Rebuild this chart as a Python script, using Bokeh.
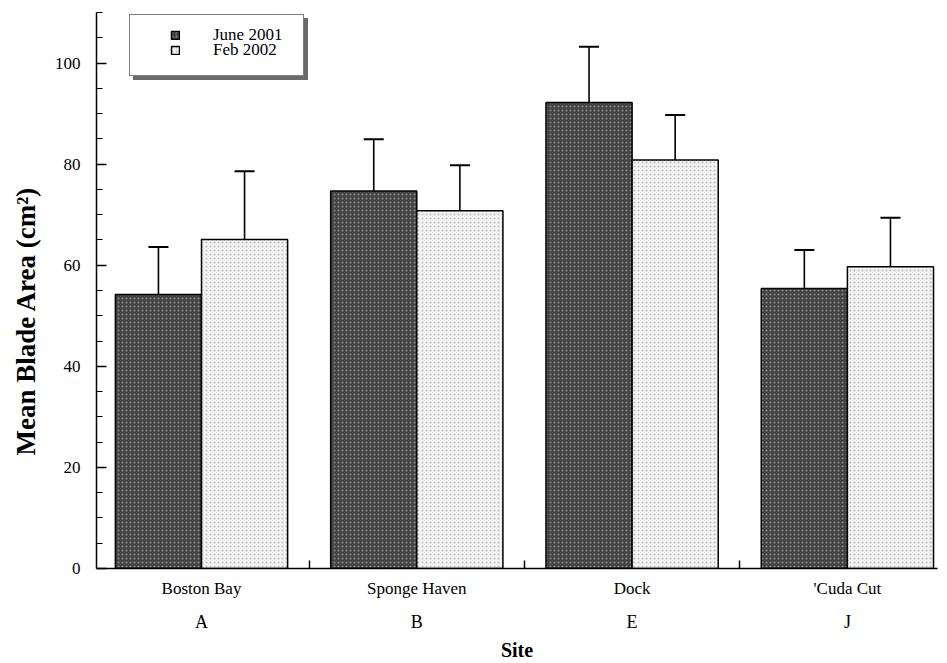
from bokeh.plotting import figure
from bokeh.models import (ColumnDataSource, FixedTicker, LinearAxis, Range1d,
                          Whisker, TeeHead, Legend, LegendItem)
from bokeh.embed import file_html
from bokeh.resources import INLINE

# ---- data ----
sites = ["Boston Bay", "Sponge Haven", "Dock", "'Cuda Cut"]
site_codes = ["A", "B", "E", "J"]
series = ["June 2001", "Feb 2002"]
june_mean = [54.2, 74.7, 92.2, 55.4]
june_err = [9.4, 10.2, 11.0, 7.6]
feb_mean = [65.1, 70.8, 80.8, 59.7]
feb_err = [13.5, 9.0, 8.9, 9.7]
y_major_ticks = [0, 20, 40, 60, 80, 100]
y_minor_ticks = [5, 10, 15, 25, 30, 35, 45, 50, 55, 65, 70, 75, 85, 90, 95, 105, 110]

FONT = "Liberation Serif"
idx = list(range(len(sites)))
offset = 0.2
bar_w = 0.4

june_src = ColumnDataSource(dict(
    x=[i - offset for i in idx], top=june_mean,
    upper=[m + e for m, e in zip(june_mean, june_err)],
    lower=[m - e for m, e in zip(june_mean, june_err)]))
feb_src = ColumnDataSource(dict(
    x=[i + offset for i in idx], top=feb_mean,
    upper=[m + e for m, e in zip(feb_mean, feb_err)],
    lower=[m - e for m, e in zip(feb_mean, feb_err)]))

p = figure(width=947, height=663, output_backend="svg", toolbar_location=None,
           x_range=Range1d(-0.4877, 3.4185), y_range=Range1d(0, 110),
           min_border_left=96, min_border_right=10, min_border_top=12,
           min_border_bottom=95)
p.outline_line_color = None
p.grid.visible = False
p.background_fill_color = "white"

r_june = p.vbar(x="x", top="top", width=bar_w, bottom=0, source=june_src,
                fill_color="#434343", line_color="black", line_width=1.5,
                hatch_pattern="dot", hatch_color="#8a8a8a", hatch_scale=4, hatch_weight=1)
r_feb = p.vbar(x="x", top="top", width=bar_w, bottom=0, source=feb_src,
               fill_color="#f3f3f3", line_color="black", line_width=1.5,
               hatch_pattern="dot", hatch_color="#bdbdbd", hatch_scale=4, hatch_weight=1)
# invisible renderer used only to size the legend frame
ghost = p.vbar(x=[], top=[], width=bar_w, fill_alpha=0, line_alpha=0)

for src in (june_src, feb_src):
    p.add_layout(Whisker(source=src, base="x", upper="upper", lower="lower",
                         line_color="black", line_width=1.6,
                         upper_head=TeeHead(size=20, line_width=2, line_color="black"),
                         lower_head=TeeHead(size=20, line_width=2, line_color="black")))

# y axis
ya = p.yaxis[0]
ya.ticker = FixedTicker(ticks=y_major_ticks, minor_ticks=y_minor_ticks)
ya.major_tick_in = 10
ya.major_tick_out = 0
ya.minor_tick_in = 6
ya.minor_tick_out = 0
ya.axis_line_width = 1.5
ya.major_tick_line_width = 1.5
ya.minor_tick_line_width = 1.2
ya.major_label_standoff = 16
ya.major_label_text_font = FONT
ya.major_label_text_font_size = "17px"
ya.major_label_text_color = "black"
ya.axis_label = "Mean Blade Area (cm²)" + "\u00a0" * 9
ya.axis_label_text_font = FONT
ya.axis_label_text_font_style = "bold"
ya.axis_label_text_font_size = "27px"
ya.axis_label_text_color = "black"
ya.axis_label_standoff = 11

# x axis (site names + separators)
xa = p.xaxis[0]
xa.ticker = FixedTicker(ticks=idx, minor_ticks=[i + 0.5 for i in idx[:-1]])
xa.major_label_overrides = {i: s for i, s in zip(idx, sites)}
xa.major_tick_line_color = None
xa.major_tick_in = 0
xa.major_tick_out = 0
xa.minor_tick_in = 8
xa.minor_tick_out = 0
xa.minor_tick_line_width = 1.5
xa.axis_line_width = 1.5
xa.major_label_standoff = 10
xa.major_label_text_font = FONT
xa.major_label_text_font_size = "17px"
xa.major_label_text_color = "black"

# second x axis (site codes + title)
xa2 = LinearAxis(ticker=FixedTicker(ticks=idx, minor_ticks=[]),
                 major_label_overrides={i: c for i, c in zip(idx, site_codes)},
                 axis_line_color=None, major_tick_line_color=None,
                 minor_tick_line_color=None, major_tick_in=0, major_tick_out=0,
                 minor_tick_in=0, minor_tick_out=0,
                 major_label_standoff=11,
                 major_label_text_font=FONT, major_label_text_font_size="18px",
                 major_label_text_color="black",
                 axis_label="Site", axis_label_text_font=FONT,
                 axis_label_text_font_style="bold",
                 axis_label_text_font_size="20px", axis_label_text_color="black",
                 axis_label_standoff=4)
p.add_layout(xa2, "below")

# legend frame (drop shadow + white box)
frame_kw = dict(glyph_width=10, glyph_height=10, label_standoff=5, padding=10,
                spacing=0, margin=0, label_text_font=FONT,
                label_text_font_size="17px", label_width=138, label_text_alpha=0)
shadow = Legend(items=[LegendItem(label="\u00a0", renderers=[ghost]),
                       LegendItem(label="\u00a0", renderers=[ghost])],
                location=(37, 488), background_fill_color="#6a6a6a",
                background_fill_alpha=1.0, border_line_color="#6a6a6a", **frame_kw)
box = Legend(items=[LegendItem(label="\u00a0", renderers=[ghost]),
                    LegendItem(label="\u00a0", renderers=[ghost])],
             location=(33, 492), background_fill_color="white",
             background_fill_alpha=1.0, border_line_color="black",
             border_line_width=1.2, **frame_kw)
p.add_layout(shadow, "center")
p.add_layout(box, "center")

# legend entries
item_kw = dict(glyph_width=10, glyph_height=10, label_standoff=33, padding=0,
               spacing=0, margin=0, label_text_font=FONT,
               label_text_font_size="17px", label_text_color="black",
               background_fill_alpha=0, border_line_color=None)
leg1 = Legend(items=[LegendItem(label=series[0], renderers=[r_june])],
              location=(74, 523), **item_kw)
leg2 = Legend(items=[LegendItem(label=series[1], renderers=[r_feb])],
              location=(74, 508), **item_kw)
p.add_layout(leg1, "center")
p.add_layout(leg2, "center")

open("out.html", "w").write(file_html(p, INLINE))
